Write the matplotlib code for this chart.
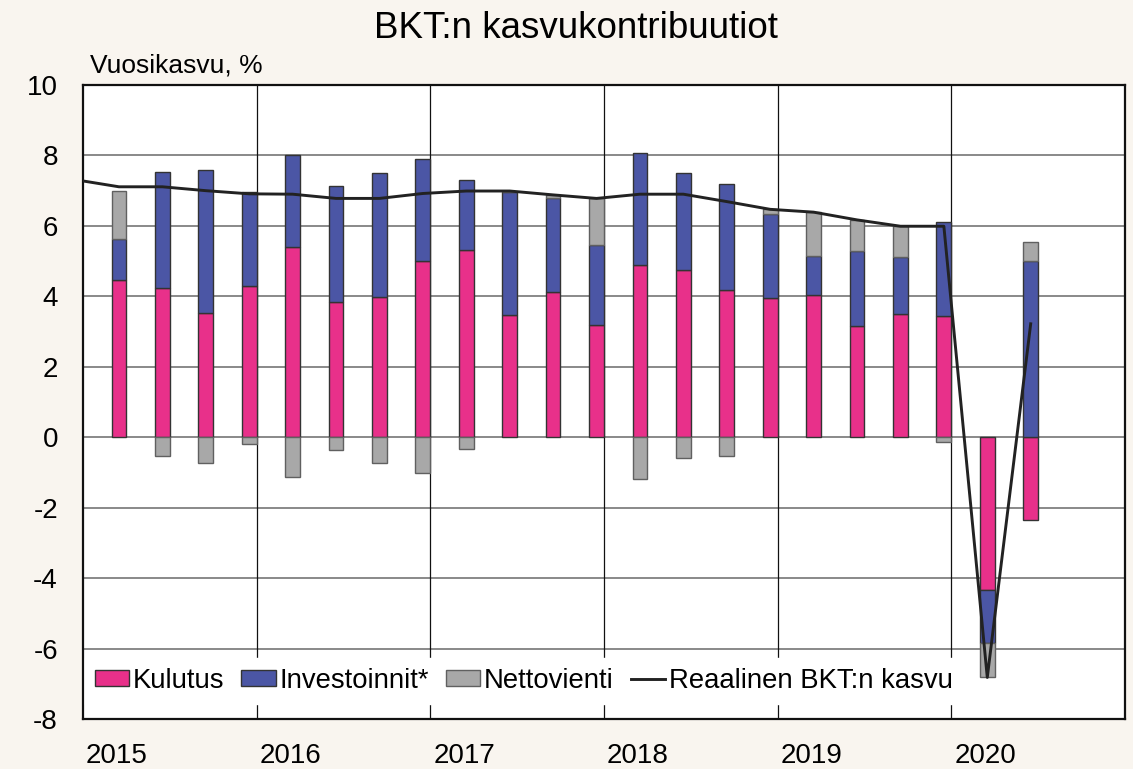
import matplotlib
matplotlib.use('Agg')
import matplotlib.pyplot as plt
import matplotlib.transforms as mtransforms
import numpy as np
from matplotlib.patches import Patch
from matplotlib.lines import Line2D

plt.rcParams['font.family'] = ['Liberation Sans', 'DejaVu Sans']

# ---- data ----
years = [2015] * 4 + [2016] * 4 + [2017] * 4 + [2018] * 4 + [2019] * 4 + [2020] * 2
quarters = [1, 2, 3, 4] * 5 + [1, 2]
kulutus = [4.46, 4.23, 3.52, 4.30, 5.39, 3.83, 3.99, 5.01, 5.32, 3.46, 4.13, 3.18,
           4.90, 4.75, 4.18, 3.96, 4.04, 3.15, 3.51, 3.45, -4.35, -2.34]
investoinnit = [1.17, 3.29, 4.08, 2.65, 2.62, 3.30, 3.52, 2.88, 1.98, 3.51, 2.65, 2.29,
                3.16, 2.74, 3.02, 2.38, 1.11, 2.14, 1.62, 2.66, -1.48, 5.00]
nettovienti = [1.36, -0.54, -0.74, -0.19, -1.12, -0.35, -0.73, -1.01, -0.33, 0.0, 0.10, 1.31,
               -1.19, -0.60, -0.52, 0.13, 1.24, 0.88, 0.86, -0.13, -0.97, 0.54]
gdp_2014q4 = 7.31
gdp = [7.11, 7.11, 7.00, 6.91, 6.90, 6.78, 6.78, 6.92, 6.99, 6.99, 6.88, 6.78,
       6.90, 6.90, 6.69, 6.47, 6.39, 6.17, 5.99, 5.99, -6.82, 3.22]
year_labels = ['2015', '2016', '2017', '2018', '2019', '2020']
y_ticks = [-8, -6, -4, -2, 0, 2, 4, 6, 8, 10]

series = [
    ('Kulutus', kulutus, '#E8308A', '#333333'),
    ('Investoinnit*', investoinnit, '#4B56A5', '#333333'),
    ('Nettovienti', nettovienti, '#A8A8A8', '#606060'),
]

# ---- figure ----
fig = plt.figure(figsize=(11.33, 7.69), dpi=100, facecolor='#F9F5EF')
ax = fig.add_axes([83 / 1133, 50 / 769, 1042 / 1133, 634 / 769])
ax.set_facecolor('white')

x = np.array(years) + 0.207 + 0.25 * (np.array(quarters) - 1)
width = 0.085

pos_base = np.zeros(len(x))
neg_base = np.zeros(len(x))
for name, vals, fc, ec in series:
    v = np.array(vals)
    bottom = np.where(v >= 0, pos_base, neg_base)
    ax.bar(x, v, width=width, bottom=bottom, color=fc, edgecolor=ec,
           linewidth=1.0, zorder=3)
    pos_base = pos_base + np.where(v >= 0, v, 0)
    neg_base = neg_base + np.where(v < 0, v, 0)

x_line = np.concatenate([[2014 + 0.957], x])
y_line = np.concatenate([[gdp_2014q4], gdp])
ax.plot(x_line, y_line, color='#222222', linewidth=2.1, zorder=4, clip_on=True)

ax.set_xlim(2015, 2021)
ax.set_ylim(-8, 10)
ax.set_yticks(y_ticks)
ax.set_yticklabels([str(t) for t in y_ticks])
ax.set_xticks([2015, 2016, 2017, 2018, 2019, 2020])
ax.set_xticklabels(year_labels)
for lbl in ax.get_xticklabels():
    lbl.set_horizontalalignment('left')

ax.tick_params(axis='both', length=0, labelsize=20)
ax.tick_params(axis='y', pad=18)
ax.tick_params(axis='x', pad=17)
offset = mtransforms.ScaledTranslation(3 / 100, 0, fig.dpi_scale_trans)
for lbl in ax.get_xticklabels():
    lbl.set_transform(lbl.get_transform() + offset)

for yv in y_ticks[1:-1]:
    ax.axhline(yv, color='#6a6a6a', linewidth=1.1, zorder=1)
for xv in [2016, 2017, 2018, 2019, 2020]:
    ax.axvline(xv, color='#111111', linewidth=0.9, zorder=1)

for s in ax.spines.values():
    s.set_linewidth(1.6)
    s.set_color('#111111')

handles = [Patch(facecolor=fc, edgecolor=ec, linewidth=1.0) for _, _, fc, ec in series]
handles.append(Line2D([0], [0], color='#222222', linewidth=2.1))
labels = [s[0] for s in series] + ['Reaalinen BKT:n kasvu']
leg = ax.legend(handles, labels, ncol=4, loc='lower left',
                bbox_to_anchor=(0.002, 0.024), borderaxespad=0,
                fontsize=19.8, frameon=True, fancybox=False, framealpha=1,
                facecolor='white', edgecolor='white', handlelength=1.25,
                handleheight=0.55, handletextpad=0.13, columnspacing=0.62,
                borderpad=0.36)
leg.set_zorder(10)

fig.text(576 / 1133, 1 - 38 / 769, 'BKT:n kasvukontribuutiot', ha='center',
         va='baseline', fontsize=26.5)
fig.text(90 / 1133, 1 - 72 / 769, 'Vuosikasvu, %', ha='left', va='baseline',
         fontsize=19)

fig.savefig('out.png', dpi=100, facecolor=fig.get_facecolor())
